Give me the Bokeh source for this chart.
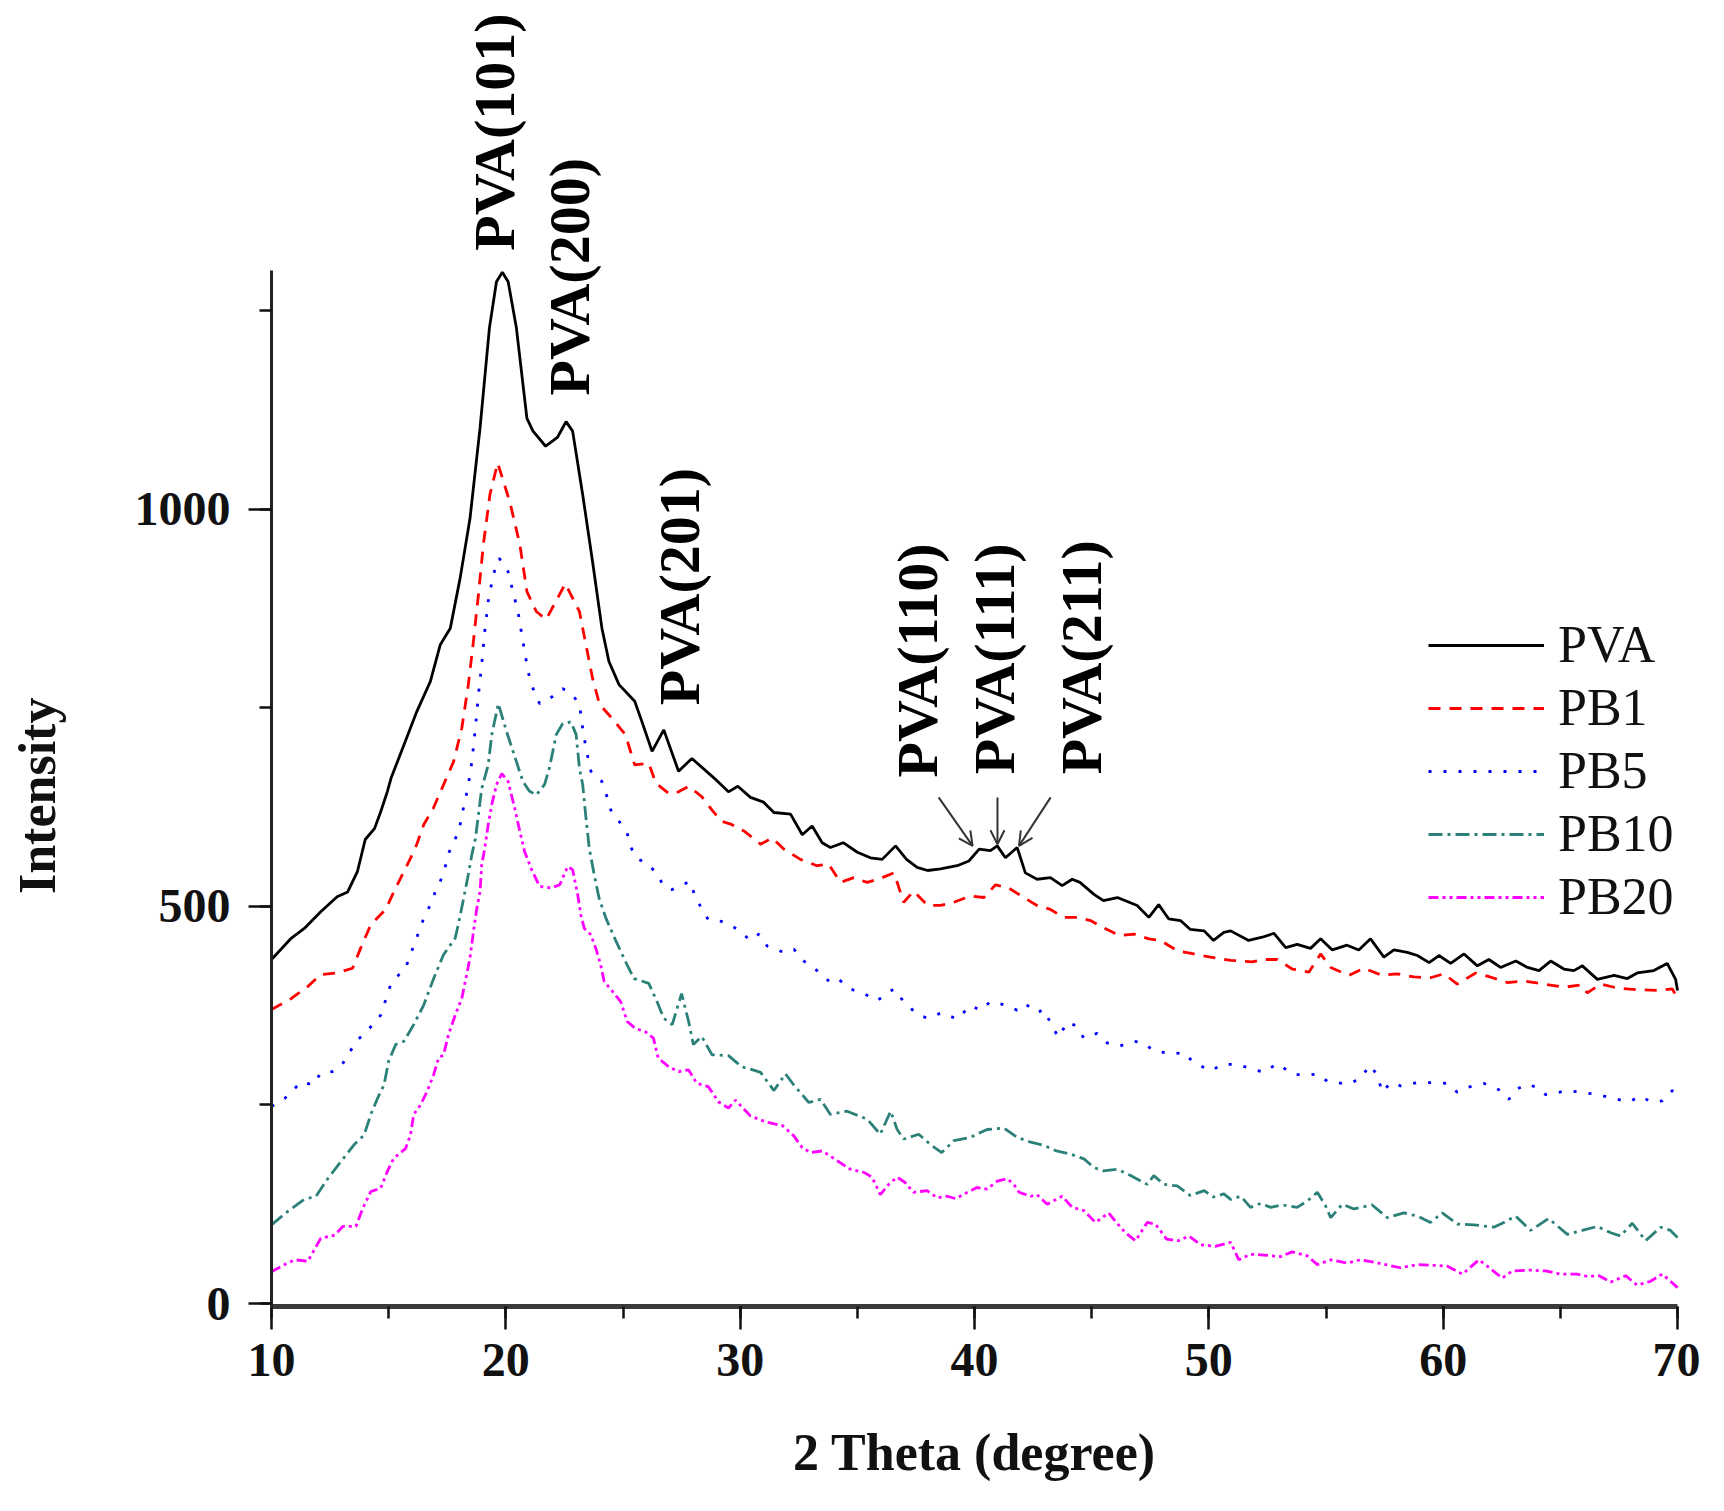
import math
from bokeh.plotting import figure
from bokeh.models import (Label, Arrow, OpenHead, Legend, LegendItem,
                          SingleIntervalTicker)
from bokeh.embed import file_html
from bokeh.resources import INLINE

# ---------------- data ----------------
pva_x = [10.0, 10.85, 11.4, 12.1, 12.8, 13.25, 13.67, 14.0, 14.4, 14.66, 14.94, 15.1, 15.65, 16.2, 16.78, 17.2,
         17.63, 18.05, 18.47, 18.9, 19.3, 19.6, 19.85, 20.1, 20.45, 20.9, 21.16, 21.7, 22.2, 22.57, 22.85, 23.28,
         23.7, 24.1, 24.4, 24.83, 25.5, 25.8, 26.24, 26.74, 27.37, 27.94, 28.9, 29.5, 29.9, 30.44, 31.0, 31.44,
         32.15, 32.65, 33.07, 33.5, 33.85, 34.4, 35.0, 35.56, 36.06, 36.63, 37.1, 37.55, 38.0, 38.55, 39.26,
         39.76, 40.2, 40.68, 40.97, 41.32, 41.82, 42.17, 42.67, 43.24, 43.74, 44.17, 44.5, 45.1, 45.5, 46.1,
         46.94, 47.44, 47.86, 48.29, 48.79, 49.2, 49.8, 50.2, 50.64, 50.93, 51.7, 52.28, 52.78, 53.28, 53.77,
         54.34, 54.77, 55.27, 55.9, 56.4, 56.9, 57.47, 57.9, 58.47, 58.9, 59.4, 59.82, 60.32, 60.89, 61.46,
         61.95, 62.45, 63.1, 63.6, 64.09, 64.59, 65.15, 65.58, 65.94, 66.58, 67.29, 67.86, 68.28, 68.99, 69.56,
         69.92, 70.0]
pva_y = [433, 460, 472, 493, 512, 518, 544, 584, 598, 619, 644, 661, 703, 745, 783, 829,
         850, 913, 988, 1102, 1228, 1286, 1298, 1286, 1228, 1114, 1098, 1079, 1090, 1110, 1098, 1018,
         934, 850, 808, 779, 758, 733, 695, 722, 670, 686, 661, 644, 651, 637, 631, 618,
         616, 590, 601, 580, 574, 580, 568, 561, 559, 576, 559, 549, 545, 547, 551,
         557, 572, 570, 576, 561, 574, 542, 534, 536, 526, 534, 530, 515, 507, 511,
         501, 486, 502, 484, 482, 471, 469, 457, 467, 469, 457, 461, 466, 448, 452,
         447, 459, 445, 451, 445, 459, 436, 445, 442, 438, 429, 438, 428, 440, 425,
         433, 423, 431, 423, 419, 431, 421, 419, 425, 408, 413, 409, 416, 419, 428,
         408, 394]

pb1_x = [10.0, 10.85, 11.55, 12.1, 12.8, 13.46, 13.8, 14.24, 14.87, 15.3, 15.72, 16.14, 16.5, 16.9, 17.27,
         17.77, 18.12, 18.4, 18.6, 18.83, 19.04, 19.32, 19.65, 20.17, 20.6, 20.9, 21.3, 21.72, 22.54, 23.14,
         23.42, 23.7, 24.0, 24.55, 25.1, 25.5, 26.1, 26.4, 26.95, 27.37, 27.8, 28.36, 28.8, 29.2, 29.63, 30.2,
         30.87, 31.36, 31.86, 32.57, 33.28, 33.78, 34.28, 34.85, 35.42, 36.06, 36.56, 36.7, 36.98, 37.4, 38.0,
         38.55, 39.12, 39.83, 40.4, 40.9, 41.46, 42.1, 42.67, 43.24, 43.8, 44.38, 44.95, 45.5, 46.2, 46.8,
         47.44, 47.94, 48.65, 49.36, 50.07, 50.93, 51.85, 52.35, 52.92, 53.56, 54.27, 54.77, 55.2, 55.98,
         56.62, 57.4, 58.04, 58.75, 59.46, 60.03, 60.6, 61.39, 62.0, 62.74, 63.45, 64.3, 65.15, 65.87, 66.15,
         66.72, 67.43, 68.28, 69.14, 69.78, 70.0]
pb1_y = [370, 384, 399, 414, 416, 422, 447, 477, 496, 523, 548, 573, 603, 623, 648,
         682, 724, 779, 829, 892, 955, 1018, 1058, 1009, 955, 896, 871, 861, 906, 871,
         829, 787, 754, 736, 716, 678, 680, 655, 642, 644, 651, 638, 621, 607, 603, 594,
         578, 586, 572, 559, 551, 553, 530, 536, 530, 536, 542, 530, 505, 519, 501,
         501, 505, 513, 511, 527, 523, 511, 501, 496, 486, 486, 482, 473, 463, 465,
         459, 457, 444, 440, 436, 432, 430, 433, 433, 421, 417, 440, 423, 413,
         422, 413, 415, 411, 410, 415, 402, 416, 411, 404, 406, 402, 398, 401, 391,
         402, 397, 395, 394, 396, 384]

pb5_x = [10.0, 10.56, 11.27, 11.77, 12.1, 12.6, 13.0, 13.3, 13.67, 14.0, 14.66, 14.87, 15.08, 15.44, 15.72,
         15.93, 16.14, 16.5, 16.78, 17.0, 17.2, 17.4, 17.55, 17.77, 18.0, 18.12, 18.26, 18.4, 18.55, 18.7,
         18.83, 18.97, 19.1, 19.25, 19.46, 19.72, 20.1, 20.3, 20.52, 20.73, 20.95, 21.16, 21.44, 21.86, 22.43,
         22.85, 23.14, 23.28, 23.42, 23.63, 24.1, 24.34, 24.48, 24.83, 25.18, 25.32, 25.6, 26.03, 26.45, 26.74,
         27.1, 27.5, 27.87, 28.08, 28.36, 28.64, 29.2, 29.63, 30.0, 30.44, 30.8, 31.15, 31.86, 32.29, 32.72,
         33.28, 33.85, 34.2, 34.7, 35.35, 35.85, 36.2, 36.56, 36.98, 37.55, 38.0, 38.6, 39.26, 39.83, 40.26,
         40.68, 41.4, 41.82, 42.17, 42.67, 42.96, 43.38, 43.6, 43.95, 44.3, 44.67, 45.23, 45.66, 46.2, 46.8,
         47.2, 47.65, 48.44, 48.93, 49.36, 50.1, 50.57, 51.21, 51.64, 52.35, 52.92, 53.56, 54.13, 54.63, 55.05,
         55.9, 56.4, 56.9, 57.19, 57.4, 57.76, 58.18, 58.9, 59.6, 60.18, 60.6, 61.03, 61.74, 62.38, 62.8,
         63.16, 63.59, 64.0, 64.37, 64.8, 65.3, 65.87, 66.58, 67.43, 67.93, 68.43, 68.85, 69.35, 69.78, 70.0]
pb5_y = [248, 258, 279, 275, 290, 292, 300, 315, 332, 340, 363, 382, 401, 414, 422,
         439, 456, 485, 502, 519, 531, 548, 566, 581, 594, 615, 632, 653, 682, 724,
         766, 804, 846, 884, 917, 938, 921, 896, 871, 833, 795, 774, 755, 761, 774,
         766, 754, 724, 699, 670, 657, 636, 621, 607, 592, 575, 560, 554, 541, 525,
         521, 527, 531, 512, 497, 483, 481, 476, 468, 457, 465, 450, 442, 446, 431,
         419, 404, 408, 396, 389, 381, 389, 396, 380, 364, 359, 366, 358, 375, 369,
         380, 375, 369, 377, 366, 370, 345, 335, 354, 350, 334, 340, 328, 324, 330,
         328, 318, 314, 316, 303, 293, 301, 301, 297, 291, 302, 289, 287, 289, 280,
         276, 282, 300, 287, 266, 278, 274, 278, 278, 277, 266, 272, 277, 269, 257,
         270, 276, 272, 263, 265, 268, 266, 263, 257, 254, 261, 254, 255, 268, 263]

pb10_x = [10.0, 10.7, 11.4, 11.9, 12.4, 12.97, 13.53, 13.95, 14.24, 14.52, 14.8, 15.0, 15.3, 15.65, 16.07,
          16.5, 16.92, 17.34, 17.84, 18.0, 18.2, 18.4, 18.55, 18.7, 18.83, 18.97, 19.25, 19.4, 19.68, 20.03,
          20.45, 20.73, 21.0, 21.3, 21.65, 21.86, 22.15, 22.43, 22.78, 23.0, 23.14, 23.28, 23.42, 23.56, 23.77,
          23.98, 24.27, 24.7, 25.18, 25.47, 26.1, 26.45, 26.74, 27.1, 27.5, 27.8, 28.0, 28.36, 28.8, 29.5,
          30.06, 30.44, 30.87, 31.44, 31.93, 32.29, 32.93, 33.43, 33.85, 34.56, 35.42, 35.98, 36.42, 36.7,
          36.98, 37.62, 38.12, 38.6, 39.12, 39.83, 40.1, 40.54, 41.25, 41.82, 42.4, 42.96, 43.5, 44.1, 44.67,
          45.1, 45.5, 46.1, 46.66, 47.37, 47.65, 48.08, 48.65, 49.2, 49.8, 50.2, 50.64, 50.93, 51.36, 51.78,
          52.21, 52.64, 53.13, 53.77, 54.2, 54.63, 54.98, 55.2, 55.7, 56.19, 56.97, 57.62, 58.33, 58.9, 59.46,
          59.96, 60.6, 61.31, 62.16, 62.59, 63.09, 63.73, 64.5, 65.3, 65.94, 66.58, 67.15, 67.57, 68.07, 68.64,
          69.28, 69.7, 70.0]
pb10_y = [99, 116, 131, 135, 157, 179, 200, 212, 238, 258, 275, 305, 326, 330, 351,
          376, 409, 439, 460, 481, 510, 540, 565, 585, 615, 648, 678, 716, 755, 720,
          682, 657, 645, 640, 653, 674, 716, 730, 732, 716, 674, 653, 611, 573, 540,
          510, 485, 456, 426, 409, 403, 380, 359, 351, 390, 355, 326, 336, 313, 312,
          298, 295, 291, 268, 289, 275, 253, 257, 238, 242, 232, 213, 242, 219,
          207, 213, 200, 190, 205, 209, 213, 219, 221, 209, 203, 199, 192, 188, 182,
          171, 167, 169, 161, 150, 161, 150, 148, 136, 142, 134, 138, 131, 135, 121,
          126, 121, 124, 121, 129, 140, 123, 108, 125, 119, 124, 108, 114, 110, 102,
          114, 100, 99, 96, 102, 110, 92, 107, 87, 92, 97, 89, 85, 101, 79,
          96, 92, 83]

pb20_x = [10.0, 10.56, 11.0, 11.55, 12.1, 12.7, 13.04, 13.6, 13.9, 14.24, 14.66, 14.94, 15.22, 15.72, 15.93,
          16.07, 16.36, 16.64, 16.92, 17.13, 17.34, 17.55, 17.84, 18.12, 18.33, 18.47, 18.6, 18.76, 18.9, 18.97,
          19.1, 19.25, 19.4, 19.6, 19.83, 20.1, 20.38, 20.6, 20.8, 21.1, 21.44, 21.93, 22.3, 22.64, 22.85, 23.07,
          23.2, 23.35, 23.63, 23.84, 24.05, 24.2, 24.55, 24.9, 25.18, 25.54, 25.96, 26.3, 26.5, 26.95, 27.37,
          27.8, 28.15, 28.64, 29.07, 29.5, 29.8, 30.44, 31.15, 31.8, 32.29, 32.65, 33.0, 33.5, 33.93, 34.28,
          34.7, 35.28, 35.63, 35.98, 36.34, 36.7, 37.05, 37.4, 37.98, 38.4, 38.83, 39.2, 39.7, 40.1, 40.54,
          40.97, 41.4, 41.68, 41.9, 42.4, 42.67, 43.1, 43.74, 44.17, 44.67, 45.16, 45.73, 46.0, 46.44, 46.87,
          47.37, 47.72, 48.2, 48.7, 49.15, 49.64, 50.28, 50.93, 51.28, 51.78, 52.35, 53.06, 53.56, 54.2, 54.63,
          55.2, 55.9, 56.48, 57.05, 57.54, 58.18, 58.9, 59.6, 60.18, 60.82, 61.53, 61.88, 62.52, 62.95, 63.73,
          64.37, 65.0, 65.72, 66.15, 66.65, 67.15, 67.79, 68.28, 68.85, 69.35, 69.7, 70.0]
pb20_y = [40, 49, 55, 53, 82, 86, 97, 97, 120, 141, 145, 166, 183, 195, 212,
          238, 250, 267, 288, 309, 313, 338, 363, 384, 414, 435, 464, 497, 519, 552,
          573, 603, 628, 653, 667, 657, 623, 594, 569, 546, 525, 523, 527, 550, 546, 514,
          489, 472, 464, 447, 426, 405, 393, 380, 355, 346, 342, 334, 309, 298, 292,
          294, 277, 273, 254, 246, 256, 236, 228, 224, 211, 196, 190, 192, 184, 177,
          169, 165, 159, 137, 150, 159, 152, 140, 142, 133, 135, 132, 140, 146, 144,
          154, 157, 150, 140, 135, 137, 125, 135, 121, 117, 102, 114, 104, 89, 79,
          102, 100, 81, 79, 85, 74, 72, 77, 55, 62, 61, 59, 65, 60, 49,
          55, 51, 55, 52, 49, 45, 49, 48, 47, 37, 55, 47, 32, 41, 42,
          41, 37, 37, 34, 35, 27, 35, 23, 28, 37, 28, 20]

series_names = ["PVA", "PB1", "PB5", "PB10", "PB20"]
series_colors = ["#000000", "#ff0000", "#0000ff", "#2b8078", "#ff00ff"]
series_dash = ["solid", "12 9", "3 12", "14 5 3 5", "10 4 3 4 3 4"]

x_axis_span = (10, 70)       # drawn extent of the x axis
y_axis_span = (-4, 1300)     # drawn extent of the y axis
x_tick_interval = 10
y_tick_interval = 500

ann_text = ["PVA(101)", "PVA(200)", "PVA(201)", "PVA(110)", "PVA(111)", "PVA(211)"]
ann_x = [19.52, 22.73, 27.42, 37.58, 40.86, 44.56]
ann_y = [1325, 1143, 753, 662, 666, 666]

arrow_x0 = [38.47, 40.98, 43.25]
arrow_y0 = [637, 637, 637]
arrow_x1 = [39.92, 40.98, 41.90]
arrow_y1 = [576, 578, 576]

SERIF = "Liberation Serif"

# ---------------- layout: the frame fills the whole canvas ----------------
W, H = 1700, 1495
LEFT_PX = 271            # canvas x of the y axis (x = 10)
ZERO_PX = 1303           # canvas y of intensity 0
PX_PER_X = 1406 / 60.0
PX_PER_Y = 0.7945
x_lo = x_axis_span[0] - LEFT_PX / PX_PER_X
x_hi = x_axis_span[0] + (W - LEFT_PX) / PX_PER_X
y_hi = ZERO_PX / PX_PER_Y
y_lo = -(H - ZERO_PX) / PX_PER_Y

p = figure(width=W, height=H, x_range=(x_lo, x_hi), y_range=(y_lo, y_hi),
           output_backend="svg", toolbar_location=None,
           min_border=0, min_border_left=0, min_border_right=0,
           min_border_top=0, min_border_bottom=0)
p.outline_line_color = None
p.grid.visible = False
p.background_fill_color = "white"
p.border_fill_color = "white"

xs = [pva_x, pb1_x, pb5_x, pb10_x, pb20_x]
ys = [pva_y, pb1_y, pb5_y, pb10_y, pb20_y]
renderers = []
for xx, yy, c, d in zip(xs, ys, series_colors, series_dash):
    r = p.line(xx, yy, line_color=c, line_width=2.8, line_dash=d)
    renderers.append(r)

# axes placed at fixed locations inside the frame
xa = p.xaxis[0]
ya = p.yaxis[0]
xa.fixed_location = y_axis_span[0]
ya.fixed_location = x_axis_span[0]
xa.bounds = x_axis_span
ya.bounds = y_axis_span
xa.ticker = SingleIntervalTicker(interval=x_tick_interval, num_minor_ticks=2)
ya.ticker = SingleIntervalTicker(interval=y_tick_interval, num_minor_ticks=2)
for ax in (xa, ya):
    ax.major_tick_in = 0
    ax.major_tick_out = 23
    ax.minor_tick_in = 0
    ax.minor_tick_out = 12
    ax.major_tick_line_width = 2.5
    ax.minor_tick_line_width = 2.5
    ax.major_tick_line_color = "#111111"
    ax.minor_tick_line_color = "#111111"
    ax.major_label_text_font = SERIF
    ax.major_label_text_font_style = "bold"
    ax.major_label_text_font_size = "48px"
    ax.major_label_text_color = "#111111"
xa.axis_line_width = 5
xa.axis_line_color = "#3a3a3a"
ya.axis_line_width = 3
ya.axis_line_color = "#222222"
xa.major_label_standoff = 14
ya.major_label_standoff = 18

# axis titles
p.add_layout(Label(x=40, y=-187.5, text="2 Theta (degree)", text_align="center",
                   text_baseline="alphabetic", text_font=SERIF, text_font_style="bold",
                   text_font_size="52px", text_color="#111111"))
p.add_layout(Label(x=0.02, y=639, text="Intensity", angle=math.pi / 2, text_align="center",
                   text_baseline="alphabetic", text_font=SERIF, text_font_style="bold",
                   text_font_size="52px", text_color="#111111"))

# peak annotations
for t, ax_, ay_ in zip(ann_text, ann_x, ann_y):
    p.add_layout(Label(x=ax_, y=ay_, text=t, angle=math.pi / 2,
                       text_align="left", text_baseline="alphabetic",
                       text_font=SERIF, text_font_style="bold",
                       text_font_size="58px", text_color="#000000"))
for x0, y0, x1, y1 in zip(arrow_x0, arrow_y0, arrow_x1, arrow_y1):
    p.add_layout(Arrow(end=OpenHead(size=14, line_width=2, line_color="#333333"),
                       x_start=x0, y_start=y0, x_end=x1, y_end=y1,
                       line_width=2, line_color="#333333"))

# legend
legend = Legend(items=[LegendItem(label=n, renderers=[r]) for n, r in zip(series_names, renderers)],
                location=(1428, 569), orientation="vertical",
                label_text_font=SERIF, label_text_font_size="52px",
                label_text_color="#111111",
                glyph_width=116, glyph_height=50, label_height=50,
                label_standoff=14, spacing=4, padding=0, margin=0,
                border_line_color=None, background_fill_alpha=0)
p.add_layout(legend, "center")

open("out.html", "w").write(file_html(p, INLINE))
